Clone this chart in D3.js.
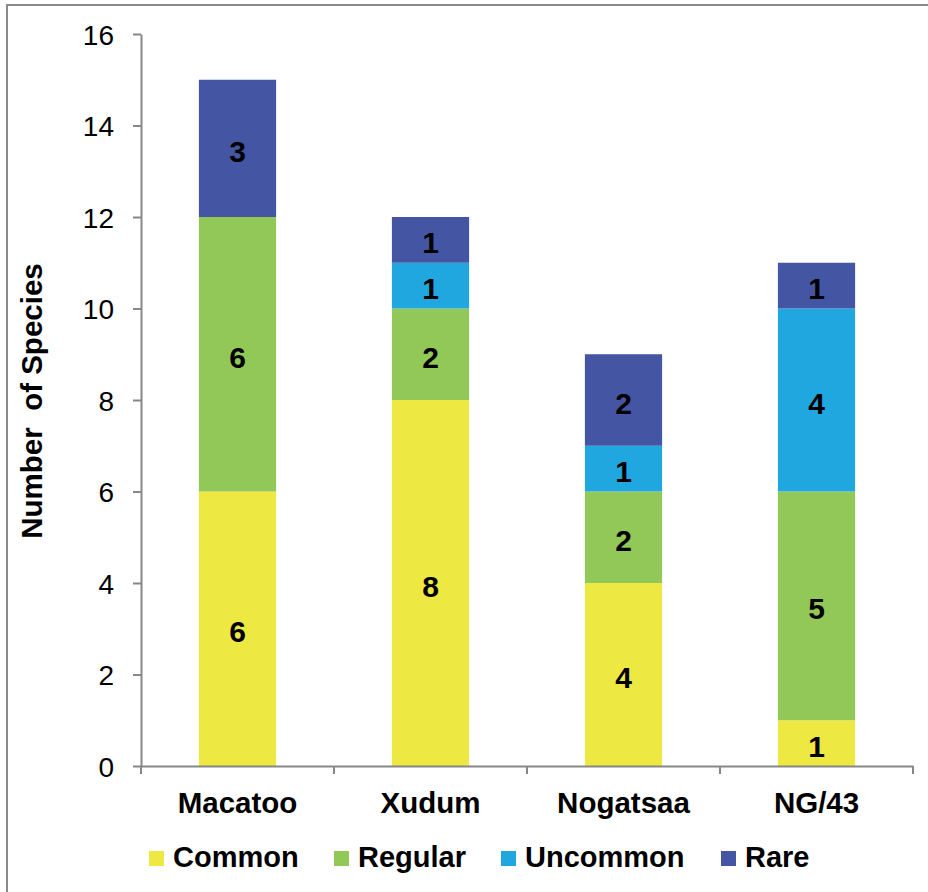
<!DOCTYPE html>
<html>
<head>
<meta charset="utf-8">
<script src="https://cdn.jsdelivr.net/npm/d3@7"></script>
<style>
  html, body { margin: 0; padding: 0; background: #fff; }
  svg { display: block; font-family: "Liberation Sans", Arial, sans-serif; }
</style>
</head>
<body>
<svg id="chart" width="928" height="892"></svg>
<script>
// Sites and the number of species in each frequency class
const sites = ["Macatoo", "Xudum", "Nogatsaa", "NG/43"];
const classes = ["Common", "Regular", "Uncommon", "Rare"];
const common   = [6, 8, 4, 1];
const regular  = [6, 2, 2, 5];
const uncommon = [0, 1, 1, 4];
const rare     = [3, 1, 2, 1];
const yTicks = [0, 2, 4, 6, 8, 10, 12, 14, 16];
const colors = ["#EEE842", "#92C857", "#21A7DF", "#4355A3"];

const rows = sites.map((s, i) => ({
  site: s,
  Common: common[i], Regular: regular[i], Uncommon: uncommon[i], Rare: rare[i]
}));

const svg = d3.select("#chart");
const axisColor = "#878787";

// outer frame
svg.append("rect")
  .attr("x", 7).attr("y", 5)
  .attr("width", 940).attr("height", 910)
  .attr("fill", "none").attr("stroke", "#8a8a8a").attr("stroke-width", 2);

const plotLeft = 141, plotRight = 913, plotTop = 34, plotBottom = 766;

const x = d3.scaleBand().domain(sites).range([plotLeft, plotRight])
  .paddingInner(0.6).paddingOuter(0.3);
const y = d3.scaleLinear().domain([0, 16]).range([plotBottom, plotTop]);

const stack = d3.stack().keys(classes)(rows);

// stacked bars
const layer = svg.append("g").selectAll("g").data(stack).join("g")
  .attr("fill", (d, i) => colors[i]);
layer.selectAll("rect").data(d => d.filter(p => p[1] - p[0] > 0)).join("rect")
  .attr("x", d => x(d.data.site))
  .attr("width", x.bandwidth())
  .attr("y", d => y(d[1]))
  .attr("height", d => y(d[0]) - y(d[1]));

// value labels in each segment
layer.selectAll("text").data(d => d.filter(p => p[1] - p[0] > 0)).join("text")
  .attr("x", d => x(d.data.site) + x.bandwidth() / 2)
  .attr("y", d => y((d[0] + d[1]) / 2))
  .attr("dy", "0.45em")
  .attr("text-anchor", "middle")
  .attr("fill", "#000")
  .attr("font-weight", "bold")
  .attr("font-size", 30)
  .text(d => d[1] - d[0]);

// y axis
const yAxis = svg.append("g").attr("transform", `translate(${plotLeft},0)`)
  .call(d3.axisLeft(y).tickValues(yTicks).tickSize(8).tickPadding(19).tickSizeOuter(0));
yAxis.select(".domain").attr("stroke", axisColor).attr("stroke-width", 2);
yAxis.selectAll(".tick line").attr("stroke", axisColor).attr("stroke-width", 2);
yAxis.selectAll(".tick text").attr("font-size", 28).attr("fill", "#000")
  .attr("font-family", "Liberation Sans, Arial, sans-serif").attr("dy", "0.36em");

// x axis
const xAxis = svg.append("g").attr("transform", `translate(0,${plotBottom})`)
  .call(d3.axisBottom(x).tickSize(0).tickPadding(26));
xAxis.select(".domain").attr("stroke", axisColor).attr("stroke-width", 2);
xAxis.selectAll(".tick text").attr("font-size", 29.5).attr("font-weight", "bold")
  .attr("fill", "#000").attr("font-family", "Liberation Sans, Arial, sans-serif");
// category boundary ticks
const bounds = [plotLeft].concat(sites.map(s => x(s) - x.step() * x.paddingInner() / 2 + x.step()));
bounds[bounds.length - 1] = plotRight;
xAxis.selectAll(".bound").data(bounds).join("line")
  .attr("class", "bound")
  .attr("x1", d => d).attr("x2", d => d)
  .attr("y1", 0).attr("y2", 8)
  .attr("stroke", axisColor).attr("stroke-width", 2);

// y axis title
svg.append("text")
  .attr("transform", "translate(42,401) rotate(-90)")
  .attr("text-anchor", "middle")
  .attr("font-weight", "bold")
  .attr("font-size", 29.5)
  .style("white-space", "pre")
  .text("Number  of Species");

// legend
const legendX = [149, 334, 501, 721];
const legend = svg.append("g").selectAll("g").data(classes).join("g")
  .attr("transform", (d, i) => `translate(${legendX[i]},851)`);
legend.append("rect").attr("width", 15).attr("height", 15)
  .attr("fill", (d, i) => colors[i]);
legend.append("text").attr("x", 24).attr("y", 16)
  .attr("font-weight", "bold").attr("font-size", 29).attr("fill", "#000")
  .text(d => d);
</script>
</body>
</html>
